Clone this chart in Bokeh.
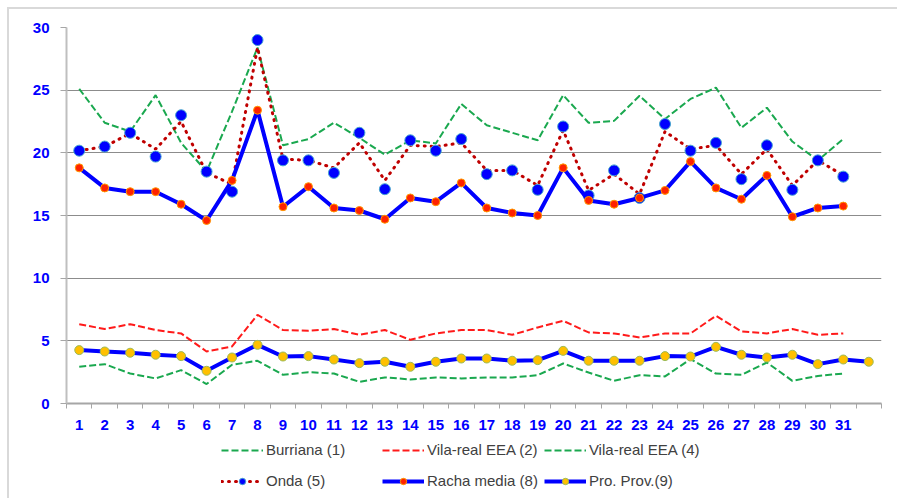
from bokeh.plotting import figure
from bokeh.layouts import column
from bokeh.models import Range1d, FixedTicker, Legend, LegendItem
from bokeh.embed import file_html
from bokeh.resources import INLINE

days31 = list(range(1, 32))
days32 = list(range(1, 33))
tick_labels = [str(d) for d in days31]
y_ticks = [0, 5, 10, 15, 20, 25, 30]

burriana = [25.1, 22.4, 21.7, 24.6, 20.8, 18.5, 23.3, 28.4, 20.6, 21.1, 22.4, 21.2, 19.85,
            21.0, 20.75, 23.9, 22.2, 21.6, 21.0, 24.6, 22.4, 22.55, 24.55, 22.7, 24.3, 25.2,
            22.0, 23.6, 20.9, 19.4, 21.1]
vila2 = [6.33, 5.94, 6.33, 5.86, 5.59, 4.15, 4.55, 7.08, 5.86, 5.8, 5.94, 5.48, 5.86, 5.08,
         5.59, 5.86, 5.86, 5.48, 6.07, 6.6, 5.67, 5.59, 5.27, 5.59, 5.59, 7.0, 5.75, 5.59,
         5.94, 5.48, 5.59]
vila4 = [2.93, 3.14, 2.39, 2.0, 2.66, 1.55, 3.09, 3.41, 2.29, 2.5, 2.39, 1.73, 2.08, 1.92,
         2.08, 2.0, 2.08, 2.08, 2.26, 3.19, 2.47, 1.81, 2.26, 2.16, 3.54, 2.39, 2.29, 3.27,
         1.81, 2.2, 2.39]
onda_line = [20.17, 20.5, 21.55, 20.3, 22.5, 18.4, 17.5, 28.4, 19.5, 19.4, 18.8, 20.8, 17.8,
             20.6, 20.5, 20.8, 18.6, 18.6, 17.4, 21.8, 17.0, 18.3, 16.7, 21.7, 20.3, 20.6,
             18.3, 20.3, 17.4, 19.4, 18.2]
onda_pts = [20.17, 20.5, 21.6, 19.7, 23.0, 18.5, 16.9, 29.0, 19.4, 19.4, 18.4, 21.6, 17.1,
            21.0, 20.17, 21.1, 18.3, 18.6, 17.05, 22.1, 16.6, 18.6, 16.4, 22.3, 20.17, 20.8,
            17.9, 20.6, 17.05, 19.4, 18.1]
racha = [18.8, 17.2, 16.9, 16.9, 15.9, 14.6, 17.8, 23.4, 15.7, 17.3, 15.6, 15.4, 14.7, 16.4,
         16.1, 17.6, 15.6, 15.2, 15.0, 18.8, 16.2, 15.9, 16.4, 17.0, 19.3, 17.2, 16.3, 18.2,
         14.9, 15.6, 15.75]
pro = [4.26, 4.15, 4.05, 3.89, 3.78, 2.61, 3.67, 4.68, 3.75, 3.78, 3.51, 3.22, 3.33, 2.93,
       3.33, 3.59, 3.59, 3.41, 3.46, 4.2, 3.41, 3.41, 3.41, 3.78, 3.75, 4.52, 3.89, 3.67,
       3.89, 3.14, 3.51, 3.33]
legend_labels = ["Burriana (1)", "Vila-real EEA (2)", "Vila-real EEA (4)",
                 "Onda (5)", "Racha media (8)", "Pro. Prov.(9)"]

FONT = "Liberation Sans"
GREEN = "#1aa84f"
BORDER = "#d9d9d9"

# ---------------- main chart ----------------
p = figure(width=897, height=436, frame_width=815, frame_height=376,
           min_border_left=66, min_border_right=16, min_border_top=27, min_border_bottom=33,
           x_range=Range1d(0.5, 32.5), y_range=Range1d(0, 30),
           output_backend="svg", toolbar_location=None)
p.border_fill_alpha = 0
p.background_fill_color = "white"
p.outline_line_color = None
p.styles = {
    "background-image": f"linear-gradient({BORDER}, {BORDER}), linear-gradient({BORDER}, {BORDER})",
    "background-size": "100% 2px, 2px 100%",
    "background-position": "7px 7px, 7px 7px",
    "background-repeat": "no-repeat",
}

p.xaxis.ticker = FixedTicker(ticks=days31, minor_ticks=[0.5 + i for i in range(33)])
p.xaxis.major_label_overrides = {d: lab for d, lab in zip(days31, tick_labels)}
p.xaxis.major_tick_line_color = None
p.xaxis.major_tick_out = 0
p.xaxis.major_tick_in = 0
p.xaxis.minor_tick_line_color = "#a6a6a6"
p.xaxis.minor_tick_in = 0
p.xaxis.minor_tick_out = 5
p.xaxis.axis_line_color = "#a6a6a6"
p.xaxis.axis_line_width = 2
p.xaxis.major_label_standoff = 11

p.yaxis.ticker = FixedTicker(ticks=y_ticks, minor_ticks=[])
p.yaxis.major_tick_line_color = "#a6a6a6"
p.yaxis.major_tick_out = 6
p.yaxis.major_tick_in = 0
p.yaxis.axis_line_color = "#bfbfbf"
p.yaxis.axis_line_width = 2
p.yaxis.major_label_standoff = 11

for ax in (p.xaxis, p.yaxis):
    ax.major_label_text_font = FONT
    ax.major_label_text_font_style = "bold"
    ax.major_label_text_font_size = "15px"
    ax.major_label_text_color = "#0000FF"

p.xgrid.visible = False
p.ygrid.grid_line_color = "#8c8c8c"
p.ygrid.grid_line_width = 1

STYLES = [
    dict(line=dict(line_color=GREEN, line_width=2, line_dash="7 3")),
    dict(line=dict(line_color="#ff1a1a", line_width=2, line_dash="7 3")),
    dict(line=dict(line_color=GREEN, line_width=2, line_dash="7 3")),
    dict(line=dict(line_color="#c00000", line_width=3, line_dash="1 6", line_cap="round"),
         marker=dict(size=11, fill_color="#0000ff", line_color="#46a5d0", line_width=1)),
    dict(line=dict(line_color="#0000ff", line_width=4),
         marker=dict(size=8, fill_color="#ff2200", line_color="#ff9900", line_width=1)),
    dict(line=dict(line_color="#0000ff", line_width=4),
         marker=dict(size=9, fill_color="#ffc000", line_color="#9bbb59", line_width=1)),
]
SERIES = [
    (days31, burriana, None),
    (days31, vila2, None),
    (days31, vila4, None),
    (days31, onda_line, onda_pts),
    (days31, racha, racha),
    (days32, pro, pro),
]

for (xs, ys, ms), st in zip(SERIES, STYLES):
    p.line(xs, ys, **st["line"])
    if ms is not None:
        p.scatter(xs, ms, **st["marker"])

# ---------------- legend strip ----------------
# same series, drawn outside this strip's visible ranges: only the legend shows
p2 = figure(width=897, height=62, min_border=0, x_range=Range1d(-10, -9), y_range=Range1d(-10, -9),
            x_axis_location=None, y_axis_location=None,
            output_backend="svg", toolbar_location=None)
p2.grid.visible = False
p2.outline_line_color = None
p2.border_fill_alpha = 0
p2.background_fill_alpha = 0
p2.styles = {
    "background-image": f"linear-gradient({BORDER}, {BORDER})",
    "background-size": "2px 100%",
    "background-position": "7px 0px",
    "background-repeat": "no-repeat",
}

items = []
for lab, (xs, ys, ms), st in zip(legend_labels, SERIES, STYLES):
    rs = [p2.line(xs, ys, **st["line"])]
    if ms is not None:
        rs.append(p2.scatter(xs, ms, **st["marker"]))
    items.append(LegendItem(label=lab, renderers=rs))

leg = Legend(items=items, ncols=3, location=(155, 5),
             orientation="horizontal", padding=0, margin=0, spacing=6,
             glyph_width=42, glyph_height=16, label_standoff=3, label_height=25,
             label_width=110,
             label_text_font=FONT, label_text_font_size="15px",
             label_text_color="#404040", background_fill_alpha=0,
             border_line_alpha=0)
p2.add_layout(leg)

open("out.html", "w").write(file_html(column(p, p2, spacing=0), INLINE))
